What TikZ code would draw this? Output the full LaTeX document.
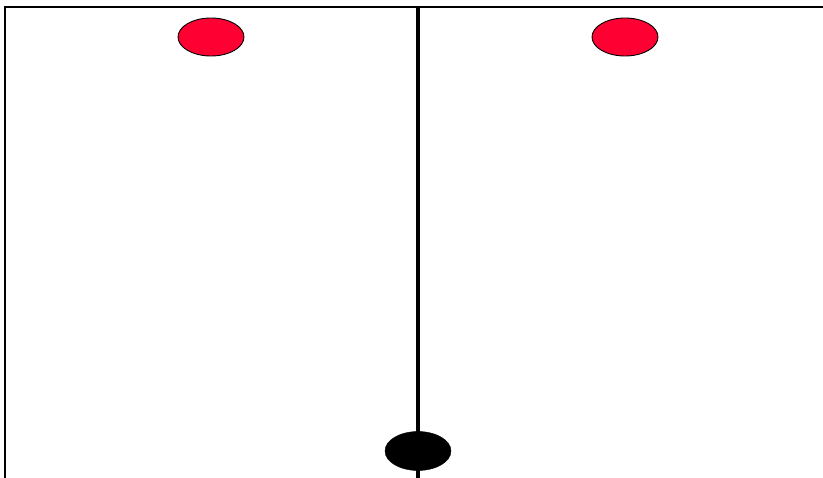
\documentclass[tikz,border=0pt]{standalone}
\usepackage{tikz}
\usetikzlibrary{shapes.geometric}
\definecolor{blobred}{RGB}{255,0,51}

\begin{document}
\begin{tikzpicture}[x=1pt, y=-1pt,
    redblob/.style={ellipse, draw, line width=0.9pt, fill=blobred, minimum width=66pt, minimum height=38pt, inner sep=0pt},
    blackblob/.style={ellipse, draw, fill=black, minimum width=66pt, minimum height=39pt, inner sep=0pt}]
    \useasboundingbox (0,0) rectangle (823,478);
    \coordinate (bl) at (5,478);
    \coordinate (tl) at (5,7);
    \coordinate (tr) at (823,7);
    \coordinate (mtop) at (418,7);
    \coordinate (mbot) at (418,478);
    \draw[line width=1.4pt] (bl) -- (tl) -- (tr);
    \draw[line width=3.2pt] (mtop) -- (mbot);
    \node (left) [redblob] at (211,37) {};
    \node (right) [redblob] at (625,37) {};
    \node (bob) [blackblob] at (418,451) {};
\end{tikzpicture}
\end{document}
